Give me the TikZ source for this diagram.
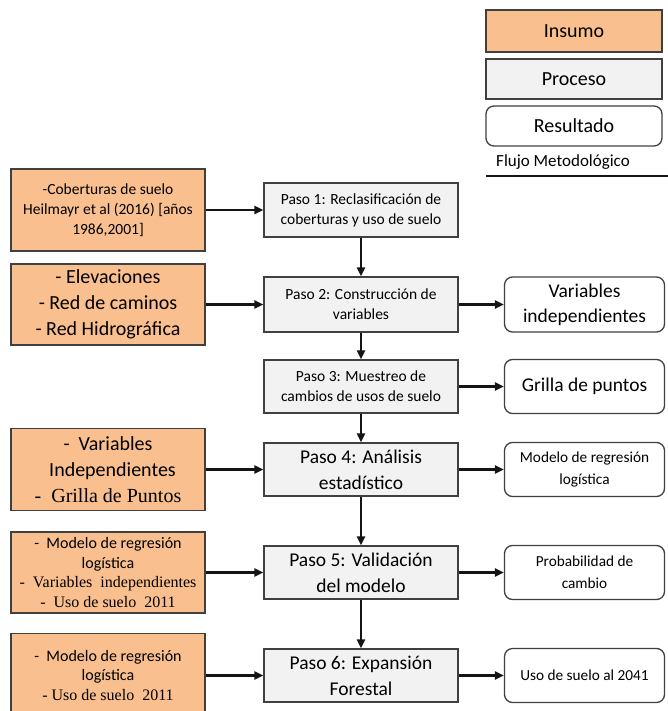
\documentclass[tikz,border=0pt]{standalone}
\usepackage{fontspec}
\setmainfont{Carlito}
\newfontfamily\timesfont{Liberation Serif}
\usetikzlibrary{arrows.meta,positioning}
\definecolor{fminsumo}{RGB}{250,191,143}
\definecolor{fmproceso}{RGB}{242,242,242}
\definecolor{fmborde}{RGB}{64,64,64}
\definecolor{fmblack}{RGB}{20,20,20}

\begin{document}
\begin{tikzpicture}[x=1pt,y=-1pt,
    insumo/.style={draw=fmborde,fill=fminsumo,line width=1.3pt,
                   minimum width=194pt,align=center,inner sep=0pt},
    proceso/.style={draw=fmborde,fill=fmproceso,line width=1.3pt,
                    minimum width=194pt,minimum height=54pt,
                    align=center,inner sep=0pt},
    resultado/.style={draw=fmborde,fill=white,rounded corners=8pt,
                      line width=1.3pt,minimum width=160pt,
                      minimum height=54pt,align=center,inner sep=0pt},
    flujo/.style={-{Triangle[length=9pt,width=8pt]},line width=2.5pt,
                  color=fmblack}]
    \useasboundingbox (0,0) rectangle (668,711);
    % leyenda
    \node[insumo,minimum width=176pt,minimum height=42pt,
          font=\fontsize{20}{24}\selectfont] (leginsumo) at (574,31) {Insumo};
    \node[proceso,minimum width=176pt,minimum height=40pt,
          font=\fontsize{20}{24}\selectfont] (legproceso) at (574,79) {Proceso};
    \node[resultado,minimum width=176pt,minimum height=40pt,
          font=\fontsize{20}{24}\selectfont] (legresultado) at (574,126)
      {Resultado};
    \node[anchor=west,inner sep=0pt,font=\fontsize{17}{20}\selectfont]
      (legflujo) at (496,162) {Flujo Metodológico};
    \draw[line width=2pt,color=fmblack] (486,176) -- (668,176);
    % insumos
    \node[insumo,minimum height=82pt,font=\fontsize{15.5}{20}\selectfont]
      (ins1) at (108,210)
      {-Coberturas de suelo\\Heilmayr et al (2016) [años\\1986,2001]};
    \node[insumo,minimum height=81pt,font=\fontsize{20}{26}\selectfont]
      (ins2) at (108,304.5)
      {- Elevaciones\\- Red de caminos\\- Red Hidrográfica};
    \node[insumo,minimum height=82pt,font=\fontsize{20}{26}\selectfont]
      (ins4) at (108,469.5)
      {-\ \ Variables\\\ \ Independientes\\{\timesfont -\ \ Grilla de Puntos}};
    \node[insumo,minimum height=81pt,font=\fontsize{16}{19.5}\selectfont]
      (ins5) at (108,572.5)
      {-\ \ Modelo de regresión\\logística\\
       {\timesfont -\ \ Variables\ \ independientes}\\
       {\timesfont -\ \ Uso de suelo\ \ 2011}};
    \node[insumo,minimum height=84pt,font=\fontsize{16}{19.5}\selectfont]
      (ins6) at (108,675.5)
      {-\ \ Modelo de regresión\\logística\\
       {\timesfont - Uso de suelo\ \ 2011}};
    % procesos
    \node[proceso,font=\fontsize{15.5}{20}\selectfont] (paso1) at (361,210)
      {Paso 1: Reclasificación de\\coberturas y uso de suelo};
    \node[proceso,minimum height=55pt,font=\fontsize{15.5}{20}\selectfont]
      (paso2) at (361,304.5) {Paso 2: Construcción de\\variables};
    \node[proceso,minimum height=53pt,font=\fontsize{15.5}{20}\selectfont]
      (paso3) at (361,386.5) {Paso 3: Muestreo de\\cambios de usos de suelo};
    \node[proceso,minimum height=53pt,font=\fontsize{19.5}{26}\selectfont]
      (paso4) at (361,469.5) {Paso 4: Análisis\\estadístico};
    \node[proceso,minimum height=53pt,font=\fontsize{19.5}{26}\selectfont]
      (paso5) at (361,572.5) {Paso 5: Validación\\del modelo};
    \node[proceso,minimum height=53pt,font=\fontsize{19.5}{26}\selectfont]
      (paso6) at (361,675.5) {Paso 6: Expansión\\Forestal};
    % resultados
    \node[resultado,minimum height=55pt,font=\fontsize{19.5}{25}\selectfont]
      (res2) at (584.5,304.5) {Variables\\independientes};
    \node[resultado,font=\fontsize{19.5}{25}\selectfont]
      (res3) at (584.5,386.5) {Grilla de puntos};
    \node[resultado,font=\fontsize{15.3}{22}\selectfont]
      (res4) at (584.5,469.5) {Modelo de regresión\\logística};
    \node[resultado,font=\fontsize{15.3}{22}\selectfont]
      (res5) at (584.5,572.5) {Probabilidad de\\cambio};
    \node[resultado,font=\fontsize{15.3}{22}\selectfont]
      (res6) at (584.5,675.5) {Uso de suelo al 2041};
    % flechas
    \draw[flujo] (ins1.east) -- (paso1.west);
    \draw[flujo] (ins2.east) -- (paso2.west);
    \draw[flujo] (ins4.east) -- (paso4.west);
    \draw[flujo] (ins5.east) -- (paso5.west);
    \draw[flujo] (ins6.east) -- (paso6.west);
    \draw[flujo] (paso1.south) -- (paso2.north);
    \draw[flujo] (paso2.south) -- (paso3.north);
    \draw[flujo] (paso3.south) -- (paso4.north);
    \draw[flujo] (paso4.south) -- (paso5.north);
    \draw[flujo] (paso5.south) -- (paso6.north);
    \draw[flujo] (paso2.east) -- (res2.west);
    \draw[flujo] (paso3.east) -- (res3.west);
    \draw[flujo] (paso4.east) -- (res4.west);
    \draw[flujo] (paso5.east) -- (res5.west);
    \draw[flujo] (paso6.east) -- (res6.west);
\end{tikzpicture}
\end{document}
